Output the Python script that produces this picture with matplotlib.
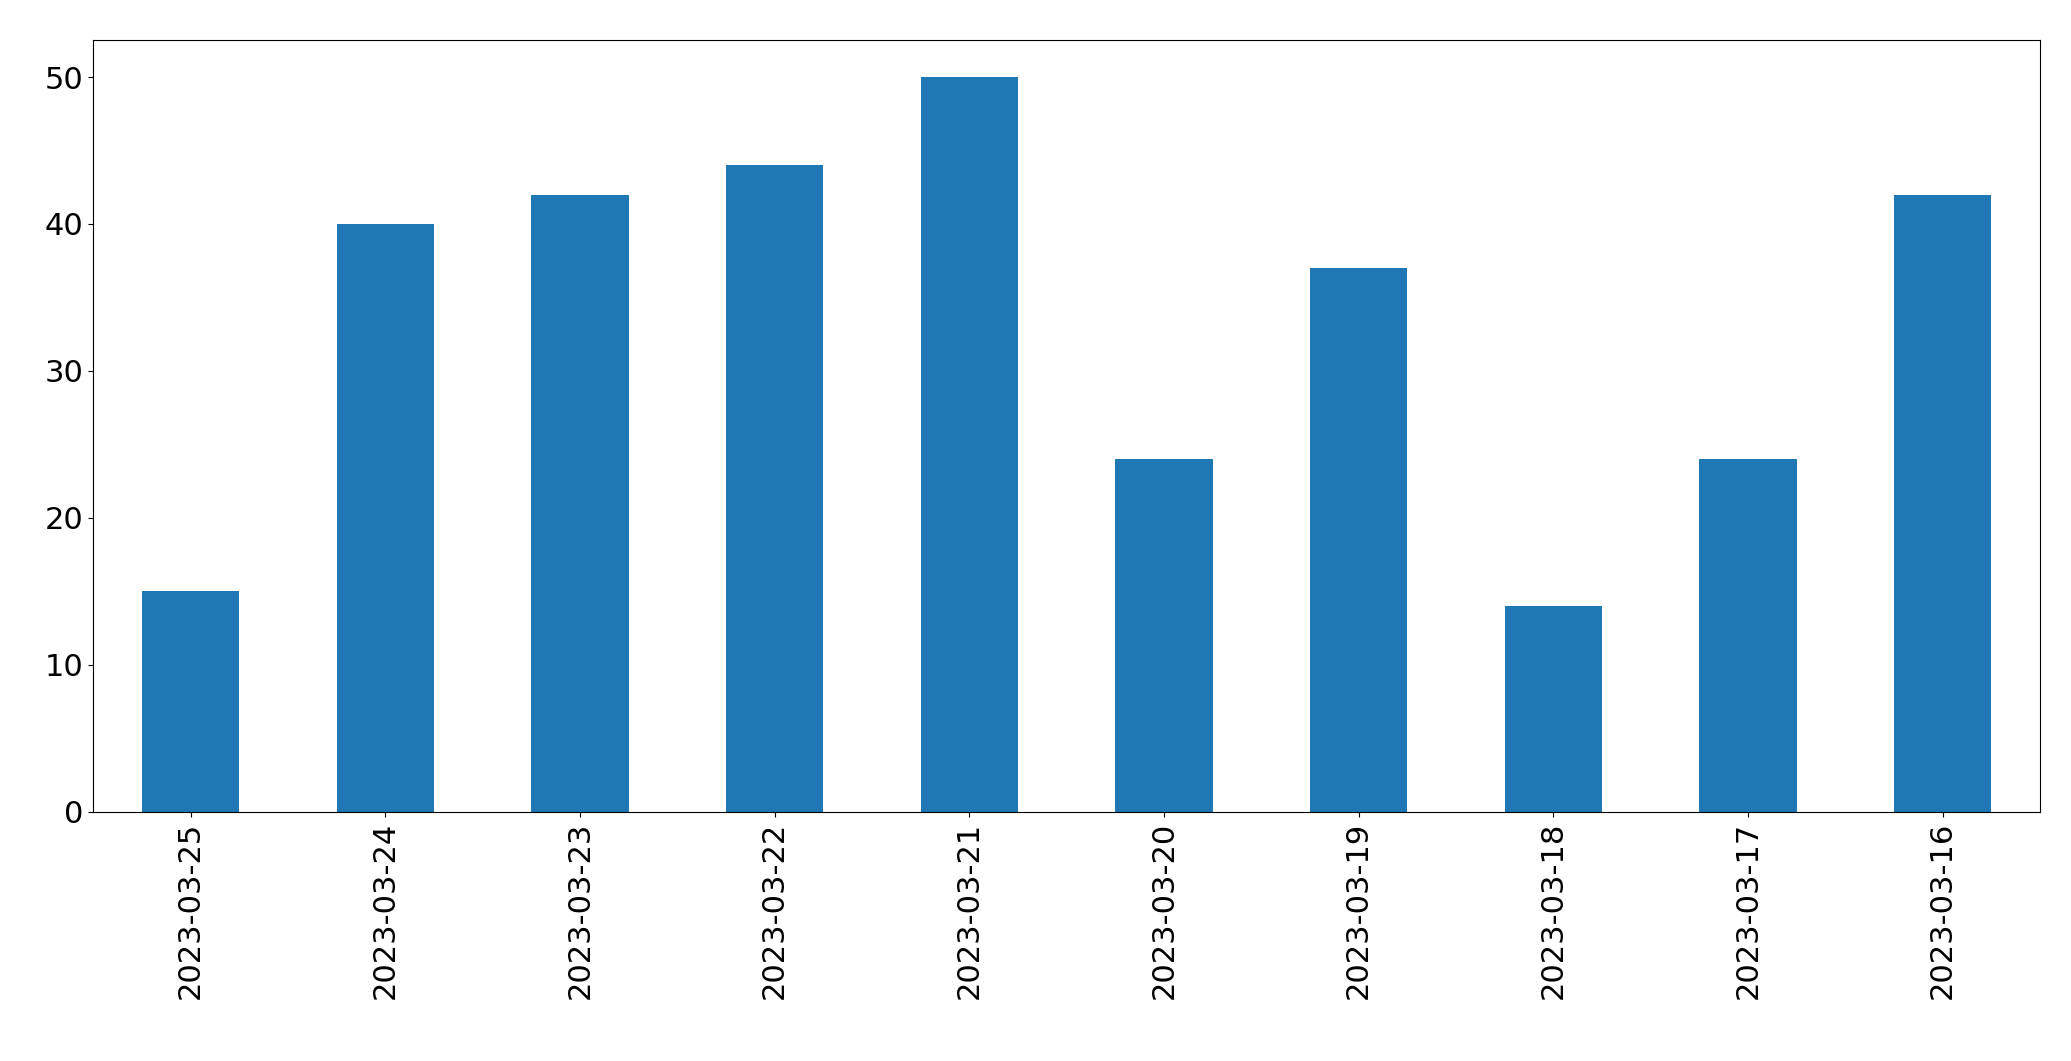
import matplotlib
matplotlib.use("Agg")
from matplotlib import pyplot as plt

dates = ['2023-03-25', '2023-03-24', '2023-03-23', '2023-03-22', '2023-03-21',
         '2023-03-20', '2023-03-19', '2023-03-18', '2023-03-17', '2023-03-16']
counts = [15, 40, 42, 44, 50, 24, 37, 14, 24, 42]

fig = plt.figure(figsize=(20.71, 10.61), dpi=100)
ax = fig.add_axes([0.045, 0.235, 0.94, 0.727])
ax.bar(range(len(dates)), counts, width=0.5, color='#1f77b4')
ax.set_xlim(-0.5, len(dates) - 0.5)
ax.set_ylim(0, 52.5)
ax.set_xticks(range(len(dates)))
ax.set_xticklabels(dates, rotation=90)
ax.tick_params(labelsize=22)
fig.savefig('out.png', dpi=100)
